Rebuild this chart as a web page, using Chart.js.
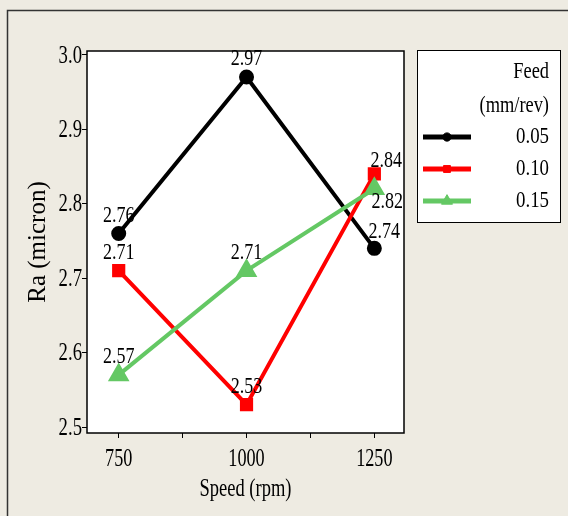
<!DOCTYPE html>
<html>
<head>
<title>Ra vs Speed</title>
<script src="https://cdn.jsdelivr.net/npm/chart.js"></script>
<style>
    body { margin: 0; background: #eeebe2; }
    canvas { display: block; }
</style>
</head>
<body>
<canvas id="myChart" width="568" height="516"></canvas>
<script>
    // data
    var speeds = [750, 1000, 1250];
    var feeds = ['0.05', '0.10', '0.15'];
    var ra005 = [2.76, 2.97, 2.74];
    var ra010 = [2.71, 2.53, 2.84];
    var ra015 = [2.57, 2.71, 2.82];
    var xTicks = [750, 875, 1000, 1125, 1250];
    var xTickLabels = ['750', '', '1000', '', '1250'];
    var yTicks = [2.5, 2.6, 2.7, 2.8, 2.9, 3.0];
    var yTickLabels = ['2.5', '2.6', '2.7', '2.8', '2.9', '3.0'];

    var FONT = '"Liberation Serif", "Times New Roman", serif';

    // condensed serif text, like the original
    function squeezeText(ctx, text, x, y, size, sx, align) {
        ctx.save();
        ctx.font = size + 'px ' + FONT;
        ctx.fillStyle = '#000';
        ctx.textBaseline = 'middle';
        ctx.textAlign = align || 'center';
        ctx.translate(x, y);
        ctx.scale(sx, 1);
        ctx.fillText(text, 0, 0);
        ctx.restore();
    }

    function points(vals) {
        return speeds.map(function (s, i) { return { x: s, y: vals[i] }; });
    }

    // where value labels sit relative to their marker (default: above)
    var labelShift = { '0-2': [10, -17], '1-2': [12, -13], '2-2': [13, 13] };

    var framePlugin = {
        id: 'frame',
        beforeDraw: function (chart) {
            var ctx = chart.ctx, a = chart.chartArea;
            ctx.save();
            ctx.fillStyle = '#eeebe2';
            ctx.fillRect(0, 0, chart.width, chart.height);
            ctx.strokeStyle = '#333';
            ctx.lineWidth = 1.5;
            ctx.beginPath();
            ctx.moveTo(7.5, chart.height);
            ctx.lineTo(7.5, 10.5);
            ctx.lineTo(chart.width, 10.5);
            ctx.stroke();
            ctx.fillStyle = '#fff';
            ctx.fillRect(a.left, a.top, a.right - a.left, a.bottom - a.top);
            ctx.restore();
        },
        afterDraw: function (chart) {
            var ctx = chart.ctx, a = chart.chartArea;
            var xs = chart.scales.x, ys = chart.scales.y;
            ctx.save();
            ctx.strokeStyle = '#000';
            ctx.lineWidth = 1.5;
            ctx.strokeRect(a.left, a.top, a.right - a.left, a.bottom - a.top);
            ctx.restore();

            // tick labels
            yTicks.forEach(function (v, i) {
                squeezeText(ctx, yTickLabels[i], a.left - 5, ys.getPixelForValue(v) + 1, 26, 0.72, 'right');
            });
            xTicks.forEach(function (v, i) {
                if (xTickLabels[i]) squeezeText(ctx, xTickLabels[i], xs.getPixelForValue(v), 459, 26, 0.7, 'center');
            });

            // axis titles
            squeezeText(ctx, 'Speed (rpm)', (a.left + a.right) / 2, 489, 25, 0.74, 'center');
            ctx.save();
            ctx.translate(38, 242);
            ctx.rotate(-Math.PI / 2);
            ctx.font = '25px ' + FONT;
            ctx.fillStyle = '#000';
            ctx.textAlign = 'center';
            ctx.textBaseline = 'middle';
            ctx.fillText('Ra (micron)', 0, 0);
            ctx.restore();

            // value labels
            chart.data.datasets.forEach(function (ds, i) {
                chart.getDatasetMeta(i).data.forEach(function (pt, j) {
                    var sh = labelShift[i + '-' + j] || [0, -18];
                    squeezeText(ctx, ds.data[j].y.toFixed(2), pt.x + sh[0], pt.y + sh[1], 24, 0.75, 'center');
                });
            });

            // legend
            ctx.save();
            ctx.fillStyle = '#fff';
            ctx.fillRect(417.5, 50.5, 143, 172);
            ctx.strokeStyle = '#000';
            ctx.lineWidth = 1;
            ctx.strokeRect(417.5, 50.5, 143, 172);
            ctx.restore();
            squeezeText(ctx, 'Feed', 549, 72, 23, 0.8, 'right');
            squeezeText(ctx, '(mm/rev)', 549, 106, 23, 0.8, 'right');
            var rowY = [137, 169, 201];
            chart.data.datasets.forEach(function (ds, i) {
                var y = rowY[i];
                ctx.save();
                ctx.strokeStyle = ds.borderColor;
                ctx.lineWidth = 5;
                ctx.beginPath();
                ctx.moveTo(423, y);
                ctx.lineTo(471, y);
                ctx.stroke();
                ctx.fillStyle = ds.backgroundColor;
                ctx.lineWidth = 1;
                Chart.helpers.drawPoint(ctx, { pointStyle: ds.pointStyle, radius: ds.pointRadius * 0.75, rotation: 0, borderWidth: 1 }, 447, y);
                ctx.restore();
                squeezeText(ctx, ds.label, 549, y, 23, 0.82, 'right');
            });
        }
    };

    var ctx = document.getElementById('myChart').getContext('2d');
    var myChart = new Chart(ctx, {
        type: 'line',
        data: {
            datasets: [{
                label: feeds[0],
                data: points(ra005),
                borderColor: '#000000',
                backgroundColor: '#000000',
                borderWidth: 4,
                pointStyle: 'circle',
                pointRadius: 5.5,
                order: 2
            }, {
                label: feeds[1],
                data: points(ra010),
                borderColor: '#ff0000',
                backgroundColor: '#ff0000',
                borderWidth: 4,
                pointStyle: 'rect',
                pointRadius: 6.5,
                order: 1
            }, {
                label: feeds[2],
                data: points(ra015),
                borderColor: '#64c864',
                backgroundColor: '#64c864',
                borderWidth: 4,
                pointStyle: 'triangle',
                pointRadius: 8.5,
                order: 0
            }]
        },
        options: {
            responsive: false,
            animation: false,
            layout: { padding: { top: 51, right: 164, left: 0, bottom: 0 } },
            plugins: { legend: { display: false }, tooltip: { enabled: false } },
            scales: {
                x: {
                    type: 'linear',
                    min: 688,
                    max: 1308,
                    afterFit: function (s) { s.height = 83; },
                    afterBuildTicks: function (s) { s.ticks = xTicks.map(function (v) { return { value: v }; }); },
                    ticks: { display: false },
                    grid: { drawOnChartArea: false, color: '#000', tickLength: 5 },
                    border: { display: false }
                },
                y: {
                    type: 'linear',
                    min: 2.492,
                    max: 3.005,
                    afterFit: function (s) { s.width = 87; },
                    afterBuildTicks: function (s) { s.ticks = yTicks.map(function (v) { return { value: v }; }); },
                    ticks: { display: false },
                    grid: { drawOnChartArea: false, color: '#000', tickLength: 5 },
                    border: { display: false }
                }
            }
        },
        plugins: [framePlugin]
    });
</script>
</body>
</html>
